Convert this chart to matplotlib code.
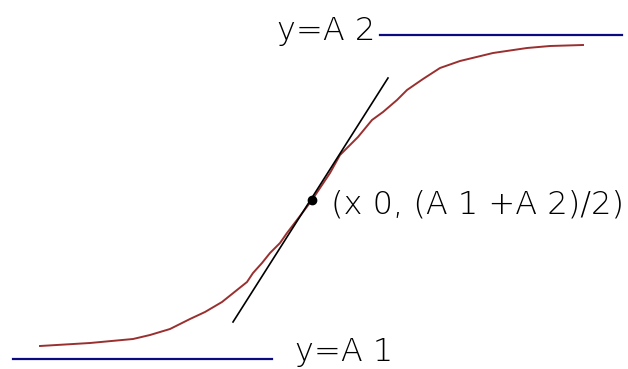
import matplotlib
matplotlib.use('Agg')
import matplotlib.pyplot as plt

# sigmoid sketch, in pixel units (y grows downward)
curve_x = [40, 90, 133, 150, 170, 190, 205, 222, 237, 247, 253, 262, 270, 280,
           287, 300, 312, 322, 330, 340, 358, 372, 383, 397, 407, 423, 440, 460,
           493, 527, 550, 583]
curve_y = [346, 343, 339, 335, 329, 319, 312, 302, 290, 282, 273, 263, 253, 243,
           233, 216, 200, 185, 173, 155, 137, 120, 112, 100, 90, 79, 68, 61,
           53, 48, 46, 45]

tangent_x = [233, 388]
tangent_y = [322, 78]

center = (312, 200)

a1_x = [13, 272]
a1_y = 359
a2_x = [380, 622]
a2_y = 35

fig = plt.figure(figsize=(6.28, 3.69), dpi=100)
ax = fig.add_axes([0, 0, 1, 1])
ax.set_xlim(0, 628)
ax.set_ylim(369, 0)
ax.axis('off')

ax.plot(a1_x, [a1_y, a1_y], color='#0c0a80', linewidth=1.6)
ax.plot(a2_x, [a2_y, a2_y], color='#0c0a80', linewidth=1.6)
ax.plot(curve_x, curve_y, color='#9a2f2f', linewidth=1.4)
ax.plot(tangent_x, tangent_y, color='black', linewidth=1.2)
ax.plot([center[0]], [center[1]], 'o', color='black', markersize=6)

font = dict(family=['DejaVu Sans'], fontweight=200, fontsize=23)
ax.text(375, 40, 'y=A 2', ha='right', va='baseline', **font)
ax.text(295, 361, 'y=A 1', ha='left', va='baseline', **font)
ax.text(331, 214, '(x 0, (A 1 +A 2)/2)', ha='left', va='baseline', **font)

plt.savefig('out.png')
